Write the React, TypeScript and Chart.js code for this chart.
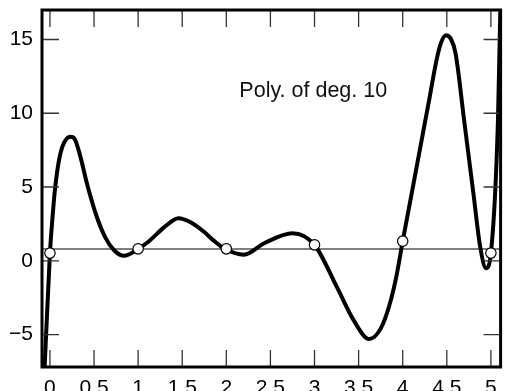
import React, { useEffect, useRef } from "react";
import { Chart, registerables } from "chart.js";

Chart.register(...registerables);

// ---- data ----
const curveX = [
  -0.09, -0.06, 0, 0.03, 0.06, 0.12, 0.235, 0.28, 0.33, 0.43, 0.53, 0.63, 0.73, 0.84,
  1.0, 1.12, 1.3, 1.457, 1.6, 1.75, 1.85, 1.98, 2.2, 2.43, 2.75, 3.0, 3.25, 3.44, 3.62,
  3.75, 3.85, 3.93, 4.0, 4.1, 4.2, 4.3, 4.38, 4.43, 4.49, 4.55, 4.6, 4.7, 4.8, 4.88,
  4.945, 5.0, 5.08, 5.11,
];
const curveY = [
  -11.0, -7.2, 0.52, 3.0, 5.0, 7.3, 8.4, 8.25, 7.4, 5.0, 3.0, 1.55, 0.7, 0.34,
  0.81, 1.31, 2.3, 2.89, 2.6, 1.95, 1.4, 0.81, 0.41, 1.19, 1.87, 1.08, -1.74, -3.99, -5.3,
  -4.6, -3.0, -1.0, 1.33, 4.5, 7.7, 10.9, 13.5, 14.7, 15.29, 15.0, 14.05, 9.35, 4.65, 0.9,
  -0.5, 0.52, 9.5, 18.0,
];
const nodeX = [0, 1, 2, 3, 4, 5];
const nodeY = [0.52, 0.81, 0.81, 1.08, 1.33, 0.52];
const meanLevel = 0.8;

const xMin = -0.09;
const xMax = 5.11;
const yMin = -7.2;
const yMax = 17;
const xTicks = [0, 0.5, 1, 1.5, 2, 2.5, 3, 3.5, 4, 4.5, 5];
const yTicks = [-5, 0, 5, 10, 15];

const labelText = "Poly. of deg. 10";
const labelX = 2.148;
const labelY = 11.08;

const FONT = '"Liberation Sans", Arial, Helvetica, sans-serif';

const framePlugin = {
  id: "frame",
  afterDatasetsDraw(chart: any) {
    const { ctx, chartArea, scales } = chart;
    const { left, right, top, bottom } = chartArea;
    const x = scales.x;
    const y = scales.y;
    ctx.save();
    ctx.strokeStyle = "#333";
    ctx.lineWidth = 1.3;
    ctx.beginPath();
    const tl = 17;
    for (const v of xTicks) {
      const px = x.getPixelForValue(v);
      ctx.moveTo(px, bottom);
      ctx.lineTo(px, bottom - tl);
      ctx.moveTo(px, top);
      ctx.lineTo(px, top + tl);
    }
    for (const v of yTicks) {
      const py = y.getPixelForValue(v);
      ctx.moveTo(left, py);
      ctx.lineTo(left + tl, py);
      ctx.moveTo(right, py);
      ctx.lineTo(right - tl, py);
    }
    ctx.stroke();
    ctx.strokeStyle = "#000";
    ctx.lineWidth = 3;
    ctx.strokeRect(left, top, right - left, bottom - top);

    ctx.fillStyle = "#111";
    ctx.font = `21.5px ${FONT}`;
    ctx.textAlign = "left";
    ctx.textBaseline = "alphabetic";
    ctx.fillText(labelText, x.getPixelForValue(labelX), y.getPixelForValue(labelY));
    ctx.restore();
  },
};

const zeroPad = (scale: any) => {
  scale.paddingLeft = 0;
  scale.paddingRight = 0;
  scale.paddingTop = 0;
  scale.paddingBottom = 0;
};

export default function App() {
  const ref = useRef<HTMLCanvasElement | null>(null);

  useEffect(() => {
    if (!ref.current) return;
    const chart = new Chart(ref.current, {
      type: "line",
      data: {
        datasets: [
          {
            label: "nodes",
            data: nodeX.map((v, i) => ({ x: v, y: nodeY[i] })),
            showLine: false,
            pointRadius: 5.2,
            pointBorderWidth: 1.2,
            pointBackgroundColor: "#fff",
            pointBorderColor: "#000",
            order: 0,
          },
          {
            label: "poly",
            data: curveX.map((v, i) => ({ x: v, y: curveY[i] })),
            borderColor: "#000",
            borderWidth: 4,
            pointRadius: 0,
            cubicInterpolationMode: "monotone",
            fill: false,
            clip: 0,
            order: 1,
          },
          {
            label: "mean",
            data: [
              { x: xMin, y: meanLevel },
              { x: xMax, y: meanLevel },
            ],
            borderColor: "#000",
            borderWidth: 1.2,
            pointRadius: 0,
            fill: false,
            order: 2,
          },
        ],
      },
      options: {
        animation: false,
        responsive: false,
        events: [],
        layout: { padding: { top: 10, right: 1, left: 0, bottom: 0 } },
        plugins: { legend: { display: false }, tooltip: { enabled: false } },
        scales: {
          x: {
            type: "linear",
            min: xMin,
            max: xMax,
            grid: { display: false, drawTicks: false },
            border: { display: false },
            afterBuildTicks: (scale: any) => {
              scale.ticks = xTicks.map((v) => ({ value: v }));
            },
            afterFit: (scale: any) => {
              scale.height = 24;
              zeroPad(scale);
            },
            ticks: {
              autoSkip: false,
              maxRotation: 0,
              padding: 9,
              color: "#000",
              font: { family: FONT, size: 21 },
              callback: (v: any) => String(v),
            },
          },
          y: {
            type: "linear",
            min: yMin,
            max: yMax,
            grid: { display: false, drawTicks: false },
            border: { display: false },
            afterBuildTicks: (scale: any) => {
              scale.ticks = yTicks.map((v) => ({ value: v }));
            },
            afterFit: (scale: any) => {
              scale.width = 42;
              zeroPad(scale);
            },
            ticks: {
              autoSkip: false,
              padding: 9,
              color: "#000",
              font: { family: FONT, size: 21 },
              callback: (v: any) => (v < 0 ? "\u2212" + Math.abs(v) : String(v)),
            },
          },
        },
      },
      plugins: [framePlugin],
    });
    return () => chart.destroy();
  }, []);

  return (
    <div style={{ position: "fixed", left: 0, top: 0, width: 507, height: 391, background: "#fff" }}>
      <canvas ref={ref} width={507} height={391} style={{ display: "block" }} />
    </div>
  );
}
